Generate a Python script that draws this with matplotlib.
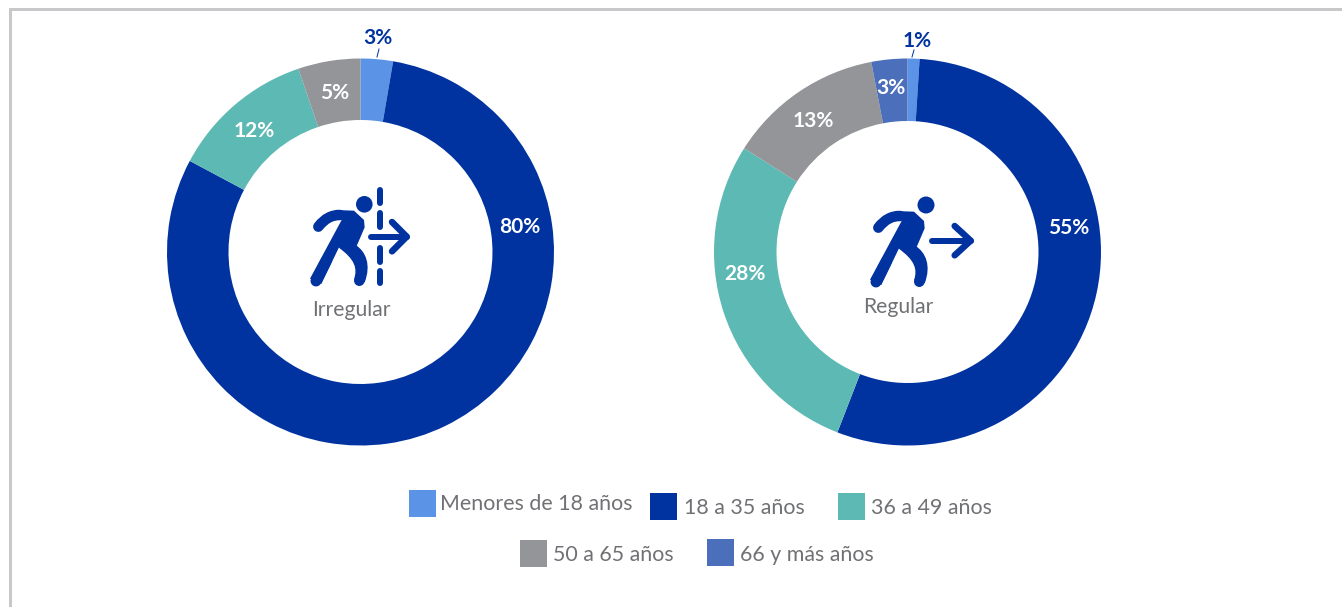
import matplotlib
matplotlib.use('Agg')
import matplotlib.pyplot as plt
from matplotlib.patches import Circle, Polygon, PathPatch, Rectangle
from matplotlib.path import Path

W, H = 1342, 607
PX = 72 / 100  # one pixel in points

categories = ['Menores de 18 años', '18 a 35 años', '36 a 49 años', '50 a 65 años', '66 y más años']
colors = ['#5B93E6', '#0033A0', '#5DB9B3', '#939598', '#4C6FBB']

# slice sizes, the printed labels are rounded
irregular_values = [2.7, 80.1, 12.0, 5.2]
irregular_colors = colors[:4]
regular_values = [1.0, 54.9, 28.1, 13.0, 3.0]
regular_colors = colors

NAVY = '#0033A0'
TEXT = '#707174'

plt.rcParams['font.family'] = ['Lato', 'DejaVu Sans']

fig = plt.figure(figsize=(W / 100, H / 100), dpi=100)


def donut(cx, cy, r, inner, values, cols):
    ax = fig.add_axes([(cx - r) / W, 1 - (cy + r) / H, 2 * r / W, 2 * r / H])
    ax.pie(values, colors=cols, startangle=90, counterclock=False, radius=1,
           wedgeprops={'width': 1 - inner / r, 'linewidth': 0})
    ax.set_xlim(-1, 1)
    ax.set_ylim(-1, 1)
    ax.axis('off')


donut(360.5, 252, 193.5, 132, irregular_values, irregular_colors)
donut(907.5, 252, 193.5, 131, regular_values, regular_colors)

# overlay in pixel coordinates for icons, labels and legend
ov = fig.add_axes([0, 0, 1, 1], zorder=5)
ov.set_xlim(0, W)
ov.set_ylim(H, 0)
ov.axis('off')

# frame, only top and left show
ov.plot([10, 10, W], [H, 9, 9], color='#C8C8CA', lw=3 * PX, solid_joinstyle='miter')

# percent labels
labels_left = [('3%', 378, 38, NAVY), ('80%', 520, 227, 'white'), ('12%', 254, 131, 'white'), ('5%', 335, 93, 'white')]
labels_right = [('1%', 917, 41, NAVY), ('55%', 1069, 228, 'white'), ('28%', 745, 274, 'white'),
                ('13%', 813, 121, 'white'), ('3%', 891, 88, 'white')]
for txt, x, y, c in labels_left + labels_right:
    ov.text(x, y, txt, color=c, fontsize=15, fontweight='bold', ha='center', va='center')
ov.plot([377, 379], [57, 49], color=NAVY, lw=1 * PX)
ov.plot([912, 914], [57, 50], color=NAVY, lw=1 * PX)


def person(x0, y0):
    def p(x, y):
        return (x0 + x / 3, y0 + y / 3)
    body = [(135, 120), (192, 122), (222, 150), (224, 172), (200, 228), (190, 258),
            (147, 232), (94, 342), (60, 326), (156, 148), (135, 150)]
    ov.add_patch(Polygon([p(*a) for a in body], closed=True, fc=NAVY, ec='none'))
    arm = Path([p(85, 170), p(105, 145), p(125, 135), p(150, 135)],
               [Path.MOVETO, Path.CURVE4, Path.CURVE4, Path.CURVE4])
    ov.add_patch(PathPatch(arm, fc='none', ec=NAVY, lw=10.5 * PX, capstyle='round'))
    ov.plot(*zip(p(78, 333), p(110, 270)), color=NAVY, lw=11 * PX, solid_capstyle='round')
    leg_verts = [p(197, 225), p(228, 245), p(244, 285), p(224, 337), p(192, 328), p(203, 295), p(195, 268),
                 p(145, 232), p(197, 225)]
    leg_codes = [Path.MOVETO, Path.CURVE4, Path.CURVE4, Path.CURVE4, Path.LINETO, Path.CURVE4, Path.CURVE4,
                 Path.CURVE4, Path.CLOSEPOLY]
    ov.add_patch(PathPatch(Path(leg_verts, leg_codes), fc=NAVY, ec='none'))
    ov.add_patch(Circle(p(208, 332), 5.3, fc=NAVY, ec='none'))


def arrow(x0, y0, x1, x2, y, hx, hh):
    s = 1 / 3
    ov.plot([x0 + x1 * s, x0 + x2 * s], [y0 + y * s] * 2, color=NAVY, lw=6 * PX, solid_capstyle='round')
    ov.plot([x0 + hx * s, x0 + x2 * s, x0 + hx * s], [y0 + (y - hh) * s, y0 + y * s, y0 + (y + hh) * s],
            color=NAVY, lw=6.5 * PX, solid_capstyle='round', solid_joinstyle='round')


# left icon
person(290, 170)
ov.add_patch(Circle((364.3, 204.3), 8.3, fc=NAVY, ec='none'))
arrow(290, 170, 243, 350, 200, 306, 44)
for a, b in [(60, 98), (130, 172), (235, 275), (302, 340)]:
    ov.plot([380, 380], [170 + a / 3, 170 + b / 3], color=NAVY, lw=6 * PX, solid_capstyle='round')
ov.text(351, 310, 'Irregular', color=TEXT, fontsize=15.2, ha='center', va='center')

# right icon
person(850, 171)
ov.add_patch(Circle((926, 205), 8.5, fc=NAVY, ec='none'))
arrow(850, 170, 247, 362, 212, 314, 44)
ov.text(898, 307, 'Regular', color=TEXT, fontsize=15.2, ha='center', va='center')

# legend
legend_boxes = [(409, 490), (650, 493), (838, 493), (520, 540), (707, 539)]
legend_text = [(440, 504), (684, 508), (871, 508), (553, 555), (740, 555)]
for cat, col, (bx, by), (tx, ty) in zip(categories, colors, legend_boxes, legend_text):
    ov.add_patch(Rectangle((bx, by), 27, 27, fc=col, ec='none'))
    ov.text(tx, ty, cat, color=TEXT, fontsize=15.4, ha='left', va='center')

fig.savefig('out.png', dpi=100, facecolor='white')
